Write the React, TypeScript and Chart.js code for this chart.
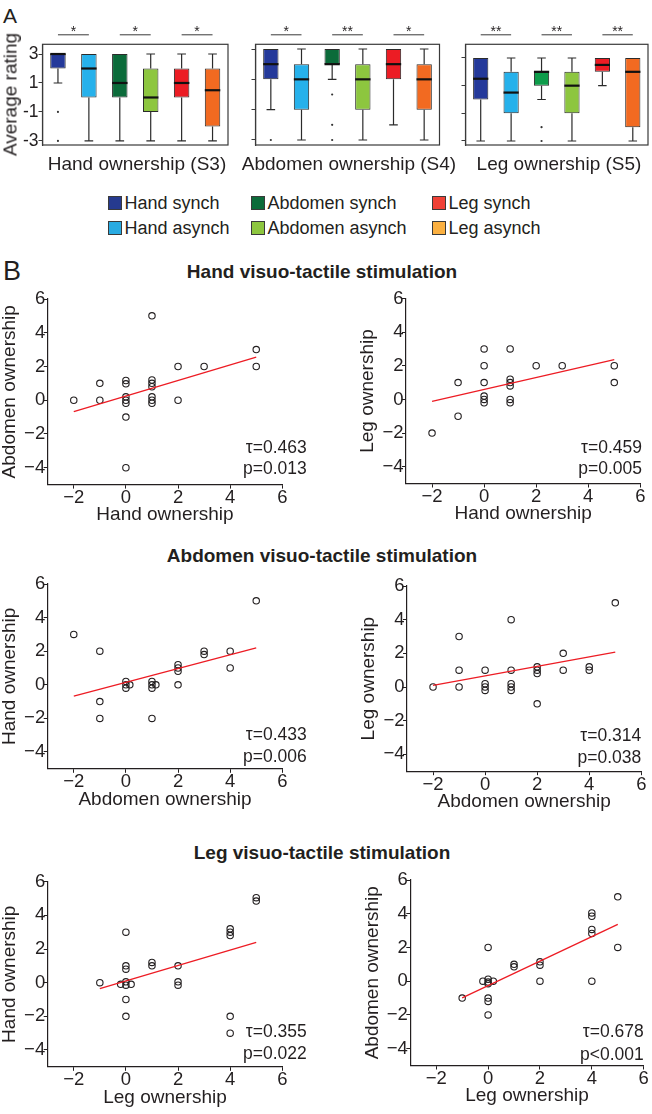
import React, { useEffect, useRef } from "react";
import { Chart, registerables } from "chart.js";

Chart.register(...registerables);

const FONT = "'Liberation Sans', Arial, Helvetica, sans-serif";
const INK = "#231f20";

/* ---------------- Panel A: box plots ---------------- */
const conditions = ["Hand synch", "Hand asynch", "Abdomen synch", "Abdomen asynch", "Leg synch", "Leg asynch"];
const ratingTicks = [-3, -1, 1, 3];

// Hand ownership (S3)
const handS3Low = [1, -3, -3, -3, -3, -3];
const handS3Q1 = [2, 0, 0, -1, 0, -2];
const handS3Median = [3, 2, 1, 0, 1, 0.5];
const handS3Q3 = [3, 3, 3, 2, 2, 2];
const handS3High = [3, 3, 3, 3, 3, 3];
const handS3Outliers: [number, number][] = [[0, -1], [0, -3]];
const handS3Stars = ["*", "*", "*"];

// Abdomen ownership (S4)
const abdomenS4Low = [-1, -3, 1, -3, -2, -3];
const abdomenS4Q1 = [1, -1, 2, -1, 1, -1];
const abdomenS4Median = [2, 1, 2, 1, 2, 1];
const abdomenS4Q3 = [3, 2, 3, 2, 3, 2];
const abdomenS4High = [3, 3, 3, 3, 3, 3];
const abdomenS4Outliers: [number, number][] = [[0, -3], [2, 0], [2, -2], [2, -3]];
const abdomenS4Stars = ["*", "**", "*"];

// Leg ownership (S5)
const legS5Low = [-3, -3, 0, -3, 1, -3];
const legS5Q1 = [0, -1, 1, -1, 2, -2];
const legS5Median = [1.5, 0.5, 2, 1, 2.5, 2];
const legS5Q3 = [3, 2, 2, 2, 3, 3];
const legS5High = [3, 3, 3, 3, 3, 3];
const legS5Outliers: [number, number][] = [[2, -2], [2, -3]];
const legS5Stars = ["**", "**", "**"];

const boxFill = ["#24399a", "#26b1eb", "#0b6b3a", "#8dc63f", "#ec1c24", "#f26a21"];
const boxFillLeg = ["#24399a", "#26b1eb", "#0d9c4a", "#8dc63f", "#ec1c24", "#f26a21"];
const legendFill = ["#263a8f", "#29abe2", "#0c6b3a", "#8dc63f", "#ef4136", "#fbb040"];

/* ---------------- Panel B: scatter plots ---------------- */
const axisTicksX = [-2, 0, 2, 4, 6];
const axisTicksY = [-4, -2, 0, 2, 4, 6];

// Hand visuo-tactile stimulation
const handStimHandVsAbdomen: [number, number][] = [
  [-2, 0], [-1, 1], [-1, 0], [0, 1.17], [0, 0.97], [0, 0.2], [0, 0], [0, -0.18], [0, -1], [0, -4],
  [1, 5], [1, 1.2], [1, 1], [1, 0.8], [1, 0.2], [1, 0], [1, -0.18], [2, 2], [2, 0], [3, 2], [5, 3], [5, 2],
];
const handStimHandVsAbdomenFit: [number, number][] = [[-2, -0.68], [5, 2.55]];
const handStimHandVsLeg: [number, number][] = [
  [-2, -2], [-1, 1], [-1, -1], [0, 3], [0, 2], [0, 1], [0, 0.2], [0, 0], [0, -0.2],
  [1, 3], [1, 1.2], [1, 1], [1, 0.8], [1, 0], [1, -0.2], [2, 2], [3, 2], [5, 2], [5, 1],
];
const handStimHandVsLegFit: [number, number][] = [[-2, -0.12], [5, 2.36]];

// Abdomen visuo-tactile stimulation
const abdomenStimAbdomenVsHand: [number, number][] = [
  [-2, 3], [-1, 2], [-1, -1], [-1, -2], [0, 0.2], [0, 0], [0, -0.2], [0.15, 0],
  [1, 0.2], [1, 0], [1, -0.2], [1.15, 0], [1, -2], [2, 1.2], [2, 1], [2, 0.8], [2, 0],
  [3, 2], [3, 1.8], [4, 2], [4, 1], [5, 5],
];
const abdomenStimAbdomenVsHandFit: [number, number][] = [[-2, -0.67], [5, 2.2]];
const abdomenStimAbdomenVsLeg: [number, number][] = [
  [-2, 0], [-1, 3], [-1, 1], [-1, 0], [0, 1], [0, 0.2], [0, 0], [0, -0.2],
  [1, 4], [1, 1], [1, 0.2], [1, 0], [1, -0.2], [2, 1.2], [2, 1], [2, 0.8], [2, -1],
  [3, 2], [3, 1], [4, 1.2], [4, 1], [5, 5],
];
const abdomenStimAbdomenVsLegFit: [number, number][] = [[-2, 0.1], [5, 2.07]];

// Leg visuo-tactile stimulation
const legStimLegVsHand: [number, number][] = [
  [-1, 0], [0, 3], [0, 1], [0, 0.8], [-0.2, -0.1], [0, 0.05], [0, -0.15], [0.2, -0.1], [0, -1], [0, -2],
  [1, 1.2], [1, 1], [2, 1], [2, 0.05], [2, -0.15], [4, 3.2], [4, 3], [4, 2.8], [4, -2], [4, -3], [5, 5.05], [5, 4.85],
];
const legStimLegVsHandFit: [number, number][] = [[-1, -0.36], [5, 2.39]];
const legStimLegVsAbdomen: [number, number][] = [
  [-1, -1], [0, 2], [-0.2, 0], [0, 0.12], [0, -0.05], [0.2, 0], [0, -0.15], [0, -1], [0, -1.2], [0, -2],
  [1, 1], [1, 0.85], [2, 1.15], [2, 0.95], [2, 0], [4, 4.05], [4, 3.85], [4, 3.07], [4, 2.83], [4, 0], [5, 5], [5, 2],
];
const legStimLegVsAbdomenFit: [number, number][] = [[-1, -0.99], [5, 3.37]];

/* ---------------- helpers ---------------- */
type Area = { left: number; right: number; top: number; bottom: number };
type Rect = { x: number; y: number; w: number; h: number };

function padFor(rect: Rect, area: Area, yW: number, xH: number) {
  return {
    left: area.left - rect.x - yW,
    right: rect.x + rect.w - area.right,
    top: area.top - rect.y,
    bottom: rect.y + rect.h - area.bottom - xH,
  };
}

const minusFmt = (v: any) => (Number(v) < 0 ? "\u2212" + Math.abs(Number(v)) : String(v));

const boxPlugin = {
  id: "boxExtras",
  beforeDatasetsDraw(chart: any, _a: any, o: any) {
    const { ctx } = chart;
    const ys = chart.scales.y;
    const bars = chart.getDatasetMeta(0).data;
    ctx.save();
    ctx.strokeStyle = "#2b2b2b";
    ctx.lineWidth = 1.2;
    bars.forEach((bar: any, i: number) => {
      const cap = bar.width * 0.28;
      const seg = (from: number, to: number) => {
        if (to === from) return;
        const y1 = ys.getPixelForValue(from);
        const y2 = ys.getPixelForValue(to);
        ctx.beginPath();
        ctx.moveTo(bar.x, y1);
        ctx.lineTo(bar.x, y2);
        ctx.moveTo(bar.x - cap, y2);
        ctx.lineTo(bar.x + cap, y2);
        ctx.stroke();
      };
      seg(o.q3[i], o.high[i]);
      seg(o.q1[i], o.low[i]);
    });
    ctx.restore();
  },
  afterDatasetsDraw(chart: any, _a: any, o: any) {
    const { ctx, chartArea: ca } = chart;
    const ys = chart.scales.y;
    const bars = chart.getDatasetMeta(0).data;
    ctx.save();
    ctx.strokeStyle = "#111";
    ctx.lineWidth = 2.2;
    bars.forEach((bar: any, i: number) => {
      const y = ys.getPixelForValue(o.median[i]);
      ctx.beginPath();
      ctx.moveTo(bar.x - bar.width / 2, y);
      ctx.lineTo(bar.x + bar.width / 2, y);
      ctx.stroke();
    });
    ctx.strokeStyle = "#3a3a3a";
    ctx.lineWidth = 1.2;
    ctx.strokeRect(ca.left, ca.top, ca.right - ca.left, ca.bottom - ca.top);
    const lineY = ca.top - 9.5;
    ctx.fillStyle = INK;
    ctx.font = `14px ${FONT}`;
    ctx.textAlign = "center";
    ctx.textBaseline = "alphabetic";
    ctx.lineWidth = 1;
    o.stars.forEach((s: string, k: number) => {
      const a = bars[2 * k];
      const b = bars[2 * k + 1];
      ctx.beginPath();
      ctx.moveTo(a.x, lineY);
      ctx.lineTo(b.x, lineY);
      ctx.stroke();
      ctx.fillText(s, (a.x + b.x) / 2, lineY + 1);
    });
    ctx.restore();
  },
};

const statsPlugin = {
  id: "statsText",
  afterDraw(chart: any, _a: any, o: any) {
    const { ctx, chartArea: ca } = chart;
    ctx.save();
    ctx.font = `17.5px ${FONT}`;
    ctx.fillStyle = INK;
    ctx.textAlign = "right";
    ctx.textBaseline = "alphabetic";
    o.lines.forEach((t: string, i: number) => {
      ctx.fillText(t, ca.right + o.dx, ca.bottom + o.baselines[i]);
    });
    ctx.restore();
  },
};

type BoxSpec = {
  rect: Rect; area: Area; yMin: number; yMax: number; showY: boolean; yW: number;
  title: string; titleX: number; low: number[]; q1: number[]; median: number[]; q3: number[]; high: number[];
  outliers: [number, number][]; stars: string[]; colors: string[];
};

function buildBox(s: BoxSpec) {
  const xH = 28.2;
  return {
    type: "bar",
    data: {
      labels: conditions,
      datasets: [
        {
          type: "bar",
          data: s.q1.map((v, i) => [v, s.q3[i]]),
          backgroundColor: s.colors,
          borderColor: "#2b2b2b",
          borderWidth: 1,
          borderSkipped: false,
          barPercentage: 0.5,
          categoryPercentage: 1,
          order: 1,
        },
        {
          type: "scatter",
          data: s.outliers.map(([i, v]) => ({ x: conditions[i], y: v })),
          pointRadius: 1.1,
          backgroundColor: "#333",
          borderWidth: 0,
          order: 0,
        },
      ],
    },
    options: {
      responsive: false,
      animation: false,
      events: [],
      layout: { padding: padFor(s.rect, s.area, s.yW, xH) },
      plugins: {
        legend: { display: false },
        tooltip: { enabled: false },
        boxExtras: { low: s.low, q1: s.q1, median: s.median, q3: s.q3, high: s.high, stars: s.stars },
      },
      scales: {
        x: {
          type: "category",
          offset: true,
          grid: { display: false },
          border: { display: false },
          ticks: { display: false },
          title: { display: false },
          afterFit: (sc: any) => { sc.height = xH; },
        },
        y: {
          type: "linear",
          min: s.yMin,
          max: s.yMax,
          afterBuildTicks: (sc: any) => { sc.ticks = ratingTicks.map((v) => ({ value: v })); },
          ticks: { display: s.showY, color: INK, padding: 0, font: { family: FONT, size: 17.5, lineHeight: 1 } },
          grid: { display: true, drawOnChartArea: false, drawTicks: true, tickLength: 4, color: "#3a3a3a" },
          border: { display: true, color: "#3a3a3a", width: 1.2 },
          title: { display: false },
          afterFit: (sc: any) => { sc.width = s.yW; },
        },
      },
    },
    plugins: [boxPlugin],
  };
}

type ScatterSpec = {
  rect: Rect; area: Area; points: [number, number][]; fit: [number, number][];
  xLabel: string; yLabel: string; stats: string[]; dx: number; baselines: number[];
};

function buildScatter(s: ScatterSpec) {
  const yW = 47.5;
  const xH = 40;
  const tickFont = { family: FONT, size: 18.5, lineHeight: 1 };
  const titleFont = { family: FONT, size: 19, lineHeight: 1 };
  return {
    type: "scatter",
    data: {
      datasets: [
        {
          type: "line",
          data: s.fit.map(([x, y]) => ({ x, y })),
          borderColor: "#ed1c24",
          borderWidth: 1.3,
          pointRadius: 0,
          fill: false,
          order: 0,
        },
        {
          type: "scatter",
          data: s.points.map(([x, y]) => ({ x, y })),
          pointRadius: 3.2,
          pointBorderWidth: 1.1,
          borderColor: INK,
          backgroundColor: "rgba(255,255,255,0)",
          order: 1,
        },
      ],
    },
    options: {
      responsive: false,
      animation: false,
      events: [],
      layout: { padding: padFor(s.rect, s.area, yW, xH) },
      plugins: {
        legend: { display: false },
        tooltip: { enabled: false },
        statsText: { lines: s.stats, dx: s.dx, baselines: s.baselines },
      },
      scales: {
        x: {
          type: "linear",
          min: -3,
          max: 6,
          afterBuildTicks: (sc: any) => { sc.ticks = axisTicksX.map((v) => ({ value: v })); },
          ticks: { color: INK, padding: 0, font: tickFont, callback: minusFmt, autoSkip: false, maxRotation: 0 },
          grid: { display: true, drawOnChartArea: false, drawTicks: true, tickLength: 4, color: INK },
          border: { display: true, color: INK, width: 1.2 },
          title: { display: true, text: s.xLabel, color: INK, padding: 0, font: titleFont },
          afterFit: (sc: any) => { sc.height = xH; },
        },
        y: {
          type: "linear",
          min: -5,
          max: 6,
          afterBuildTicks: (sc: any) => { sc.ticks = axisTicksY.map((v) => ({ value: v })); },
          ticks: { color: INK, padding: -1.5, font: tickFont, callback: minusFmt, autoSkip: false },
          grid: { display: true, drawOnChartArea: false, drawTicks: true, tickLength: 4, color: INK },
          border: { display: true, color: INK, width: 1.2 },
          title: { display: true, text: s.yLabel, color: INK, padding: 0, font: titleFont },
          afterFit: (sc: any) => { sc.width = yW; },
        },
      },
    },
    plugins: [statsPlugin],
  };
}

function ChartCanvas({ rect, build }: { rect: Rect; build: () => any }) {
  const ref = useRef<HTMLCanvasElement | null>(null);
  useEffect(() => {
    if (!ref.current) return;
    const chart = new Chart(ref.current, build());
    return () => chart.destroy();
  }, []);
  return (
    <canvas
      ref={ref}
      width={rect.w}
      height={rect.h}
      style={{ position: "absolute", left: rect.x, top: rect.y, width: rect.w, height: rect.h, display: "block" }}
    />
  );
}

const boxPanels: BoxSpec[] = [
  {
    rect: { x: 0, y: 0, w: 232, h: 185 }, area: { left: 42.5, right: 228, top: 44.3, bottom: 145 },
    yMin: -3.28, yMax: 3.67, showY: true, yW: 41.7, title: "Hand ownership (S3)", titleX: 137,
    low: handS3Low, q1: handS3Q1, median: handS3Median, q3: handS3Q3, high: handS3High,
    outliers: handS3Outliers, stars: handS3Stars, colors: boxFill,
  },
  {
    rect: { x: 250, y: 0, w: 196, h: 185 }, area: { left: 255.5, right: 439.5, top: 44.3, bottom: 145 },
    yMin: -3.33, yMax: 3.31, showY: false, yW: 5, title: "Abdomen ownership (S4)", titleX: 349,
    low: abdomenS4Low, q1: abdomenS4Q1, median: abdomenS4Median, q3: abdomenS4Q3, high: abdomenS4High,
    outliers: abdomenS4Outliers, stars: abdomenS4Stars, colors: boxFill,
  },
  {
    rect: { x: 460, y: 0, w: 192, h: 185 }, area: { left: 465.5, right: 649.5, top: 44.3, bottom: 145 },
    yMin: -3.29, yMax: 3.99, showY: false, yW: 5, title: "Leg ownership (S5)", titleX: 559,
    low: legS5Low, q1: legS5Q1, median: legS5Median, q3: legS5Q3, high: legS5High,
    outliers: legS5Outliers, stars: legS5Stars, colors: boxFillLeg,
  },
];

const scatterPanels: ScatterSpec[] = [
  {
    rect: { x: 0, y: 283, w: 326, h: 242 }, area: { left: 47.7, right: 282.3, top: 299, bottom: 484.6 },
    points: handStimHandVsAbdomen, fit: handStimHandVsAbdomenFit, xLabel: "Hand ownership", yLabel: "Abdomen ownership",
    stats: ["\u03c4=0.463", "p=0.013"], dx: 24.4, baselines: [-32, -10.6],
  },
  {
    rect: { x: 358, y: 283, w: 294, h: 242 }, area: { left: 406, right: 640.3, top: 298.5, bottom: 483.5 },
    points: handStimHandVsLeg, fit: handStimHandVsLegFit, xLabel: "Hand ownership", yLabel: "Leg ownership",
    stats: ["\u03c4=0.459", "p=0.005"], dx: 1.7, baselines: [-30.8, -9.2],
  },
  {
    rect: { x: 0, y: 568, w: 326, h: 242 }, area: { left: 47.7, right: 282.3, top: 584, bottom: 768.8 },
    points: abdomenStimAbdomenVsHand, fit: abdomenStimAbdomenVsHandFit, xLabel: "Abdomen ownership", yLabel: "Hand ownership",
    stats: ["\u03c4=0.433", "p=0.006"], dx: 24.4, baselines: [-28.8, -6.5],
  },
  {
    rect: { x: 359, y: 570, w: 293, h: 242 }, area: { left: 407, right: 641.3, top: 586, bottom: 771.2 },
    points: abdomenStimAbdomenVsLeg, fit: abdomenStimAbdomenVsLegFit, xLabel: "Abdomen ownership", yLabel: "Leg ownership",
    stats: ["\u03c4=0.314", "p=0.038"], dx: 0, baselines: [-30.2, -7.9],
  },
  {
    rect: { x: 0, y: 866, w: 326, h: 248 }, area: { left: 47.7, right: 282.3, top: 881.7, bottom: 1066.8 },
    points: legStimLegVsHand, fit: legStimLegVsHandFit, xLabel: "Leg ownership", yLabel: "Hand ownership",
    stats: ["\u03c4=0.355", "p=0.022"], dx: 24.4, baselines: [-30, -7.5],
  },
  {
    rect: { x: 362, y: 864, w: 290, h: 250 }, area: { left: 410.3, right: 643.7, top: 880, bottom: 1065.5 },
    points: legStimLegVsAbdomen, fit: legStimLegVsAbdomenFit, xLabel: "Leg ownership", yLabel: "Abdomen ownership",
    stats: ["\u03c4=0.678", "p<0.001"], dx: 0, baselines: [-28.8, -5.5],
  },
];

const legendRows = [
  [0, 2, 4],
  [1, 3, 5],
];
const legendColX = [108, 251, 432];
const legendBaselines = [208.7, 233.7];

const rowTitles = [
  { text: "Hand visuo-tactile stimulation", top: 262 },
  { text: "Abdomen visuo-tactile stimulation", top: 546 },
  { text: "Leg visuo-tactile stimulation", top: 842.5 },
];

export default function App() {
  const abs = (o: React.CSSProperties): React.CSSProperties => ({ position: "absolute", whiteSpace: "nowrap", lineHeight: 1, ...o });
  return (
    <div style={{ position: "absolute", left: 0, top: 0, width: 652, height: 1114, background: "#fff", fontFamily: FONT, color: INK, overflow: "hidden" }}>
      <div style={abs({ left: 3, top: 5, fontSize: 21 })}>A</div>
      <div style={abs({ left: 3, top: 258, fontSize: 27 })}>B</div>

      {boxPanels.map((b, i) => (
        <ChartCanvas key={"box" + i} rect={b.rect} build={() => buildBox(b)} />
      ))}
      {boxPanels.map((b, i) => (
        <div key={"bt" + i} style={abs({ left: b.titleX - 120, width: 240, textAlign: "center", top: 154.2, fontSize: 19 })}>
          {b.title}
        </div>
      ))}
      <div
        style={abs({
          left: 10.3 - 100,
          top: 94.7 - 9.5,
          width: 200,
          height: 19,
          textAlign: "center",
          fontSize: 19,
          transform: "rotate(-90deg)",
          transformOrigin: "50% 50%",
        })}
      >
        Average rating
      </div>

      {legendRows.map((row, r) =>
        row.map((ci, c) => (
          <React.Fragment key={`lg${r}-${c}`}>
            <div
              style={{
                position: "absolute",
                left: legendColX[c],
                top: legendBaselines[r] - 12.5,
                width: 12,
                height: 12,
                background: legendFill[ci],
                border: "1px solid #3a3a3a",
              }}
            />
            <div style={abs({ left: legendColX[c] + 16.5, top: legendBaselines[r] - 15.2, fontSize: 18 })}>{conditions[ci]}</div>
          </React.Fragment>
        ))
      )}

      {rowTitles.map((t, i) => (
        <div key={"rt" + i} style={abs({ left: 122, width: 400, textAlign: "center", top: t.top, fontSize: 19, fontWeight: "bold" })}>
          {t.text}
        </div>
      ))}

      {scatterPanels.map((s, i) => (
        <ChartCanvas key={"sc" + i} rect={s.rect} build={() => buildScatter(s)} />
      ))}
    </div>
  );
}
